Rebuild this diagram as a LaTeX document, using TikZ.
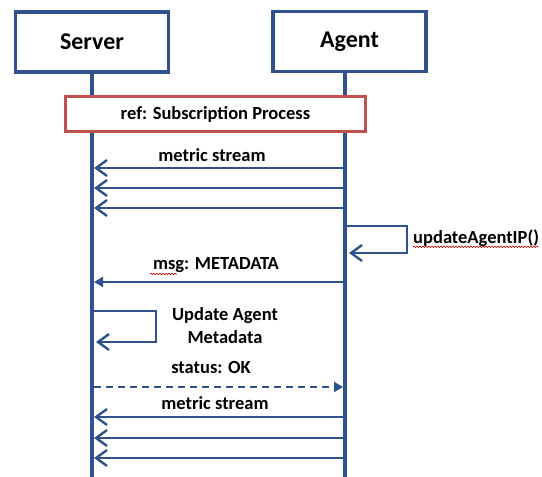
\documentclass[tikz,border=0pt]{standalone}
\usepackage{fontspec}
\setmainfont{Carlito}
\usetikzlibrary{arrows.meta,positioning,decorations.pathmorphing}
\definecolor{lineblue}{RGB}{47,82,143}
\definecolor{refred}{RGB}{192,80,77}
\begin{document}
\begin{tikzpicture}[x=1pt, y=-1pt, every node/.style={font=\bfseries\fontsize{18.5}{23}\selectfont}]
    \tikzstyle{actor} = [rectangle, draw=lineblue, line width=3.2pt, minimum width=153pt, minimum height=60pt, font=\bfseries\fontsize{24}{28}\selectfont]
    \tikzstyle{life} = [draw=lineblue, line width=4pt]
    \tikzstyle{call} = [draw=lineblue, line width=2.4pt, -{Straight Barb[length=11pt,width=16pt]}]
    \tikzstyle{reply} = [draw=lineblue, line width=2.4pt, -{Triangle[length=9pt,width=10pt]}]
    \tikzstyle{spell} = [draw=red!80!black, line width=0.6pt, decorate, decoration={snake, amplitude=0.8pt, segment length=3pt}]
    \useasboundingbox (0,0) rectangle (542,477);

    \node (server) [actor] at (92,42) {Server};
    \node (agent) [actor] at (349.5,41.5) {Agent};

    % lifelines
    \coordinate (serverTop) at (92,72);
    \coordinate (agentTop) at (345,72);
    \coordinate (serverEnd) at (92,478);
    \coordinate (agentEnd) at (345,478);
    \draw [life] (serverTop) -- (serverEnd);
    \draw [life] (agentTop) -- (agentEnd);

    \node (ref) [rectangle, draw=refred, fill=white, line width=3.2pt, minimum width=300pt, minimum height=35pt] at (215.5,114) {ref: Subscription Process};

    % first metric stream
    \node (stream1) at (212,155) {metric stream};
    \coordinate (a1) at (343,168); \coordinate (s1) at (94,168);
    \coordinate (a2) at (343,188); \coordinate (s2) at (94,188);
    \coordinate (a3) at (343,208); \coordinate (s3) at (94,208);
    \draw [call] (a1) -- (s1);
    \draw [call] (a2) -- (s2);
    \draw [call] (a3) -- (s3);

    % agent updates its own ip
    \coordinate (ip1) at (347,226);
    \coordinate (ipTurn) at (407,253);
    \coordinate (ip2) at (349,253);
    \draw [call] (ip1) -| (ipTurn) -- (ip2);
    \node (iplabel) [anchor=west, inner sep=0pt] at (413,238) {updateAgentIP()};
    \draw [spell] ([yshift=-3.5pt]iplabel.base west) -- ([yshift=-3.5pt]iplabel.base east);

    \node (metalabel) at (216,265) {msg: METADATA};
    \coordinate (m1) at (343,282); \coordinate (m2) at (94,282);
    \draw [reply] (m1) -- (m2);
    \draw [spell] (150,274) -- (177,274);

    % server updates metadata
    \coordinate (up1) at (94,311);
    \coordinate (upTurn) at (156,342);
    \coordinate (up2) at (96,342);
    \draw [call] (up1) -| (upTurn) -- (up2);
    \node (uplabel) [align=center] at (225,326) {Update Agent\\Metadata};

    \node (oklabel) at (211,367) {status: OK};
    \coordinate (ok1) at (94,387); \coordinate (ok2) at (343,387);
    \draw [reply, dashed, dash pattern=on 7pt off 5pt] (ok1) -- (ok2);

    % second metric stream
    \node (stream2) at (215,403) {metric stream};
    \coordinate (b1) at (343,417); \coordinate (t1) at (94,417);
    \coordinate (b2) at (343,438); \coordinate (t2) at (94,438);
    \coordinate (b3) at (343,458); \coordinate (t3) at (94,458);
    \draw [call] (b1) -- (t1);
    \draw [call] (b2) -- (t2);
    \draw [call] (b3) -- (t3);

\end{tikzpicture}
\end{document}
